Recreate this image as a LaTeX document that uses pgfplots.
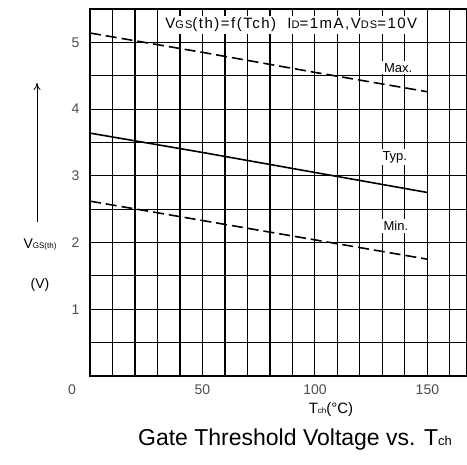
\documentclass[border=0pt]{standalone}
\usepackage{fontspec}
\setmainfont{Liberation Sans}
\usepackage{pgfplots}
\pgfplotsset{compat=1.18}
\usetikzlibrary{arrows.meta}

\begin{document}
\begin{tikzpicture}
\path[use as bounding box] (0,0) rectangle (467pt,465pt);
\begin{axis}[
  at={(90pt,89pt)}, anchor=south west,
  scale only axis, width=377pt, height=367pt,
  xmin=0, xmax=167.6, ymin=0, ymax=5.5,
  xtick={50,100,150}, ytick={1,2,3,4,5},
  minor xtick={0,10,...,160}, minor ytick={0.5,1,...,5.5},
  grid=both,
  major grid style={black, line width=1.1pt},
  minor grid style={black, line width=1.1pt},
  major tick length=0pt, minor tick length=0pt,
  axis line style={line width=1.4pt},
  /pgf/number format/assume math mode=true,
  ticklabel style={font=\fontsize{14}{14}\selectfont, text=black!70},
  xticklabel style={yshift=-5pt},
  yticklabel style={xshift=-7pt},
]
% Max
\addplot[black, line width=1.6pt, dash pattern=on 11pt off 5pt] coordinates {(0,5.14) (50,4.85) (100,4.55) (150,4.26)};
% Typ
\addplot[black, line width=1.6pt] coordinates {(0,3.64) (50,3.35) (100,3.05) (150,2.75)};
% Min
\addplot[black, line width=1.6pt, dash pattern=on 11pt off 5pt] coordinates {(0,2.62) (50,2.33) (100,2.04) (150,1.75)};
\draw[black, line width=1.3pt] (axis cs:150,4.26) -- (axis cs:150,4.5);
\draw[black, line width=1.3pt] (axis cs:150,2.75) -- (axis cs:150,2.5);
\node[fill=white, inner sep=2pt, font=\fontsize{15}{15}\selectfont\addfontfeatures{LetterSpace=10}] at (axis cs:89.5,5.26)
  {V{\fontsize{11}{11}\selectfont GS}(th)=f(Tch)\ \ I{\fontsize{11}{11}\selectfont D}=1mA,V{\fontsize{11}{11}\selectfont DS}=10V};
\node[fill=white, inner sep=2pt, font=\fontsize{13}{13}\selectfont] at (axis cs:137,4.62) {Max.};
\node[fill=white, inner sep=2pt, font=\fontsize{13}{13}\selectfont] at (axis cs:135.5,3.28) {Typ.};
\node[fill=white, inner sep=2pt, font=\fontsize{13}{13}\selectfont] at (axis cs:136,2.25) {Min.};
\end{axis}
\node[font=\fontsize{14}{14}\selectfont, text=black!70] at (72pt,75pt) {0};
\draw[-{To[length=7pt,width=7pt]}, line width=0.8pt] (37pt,243pt) -- (37pt,382pt);
\node[font=\fontsize{14}{14}\selectfont] at (40pt,220pt) {V{\fontsize{8}{8}\selectfont GS(th)}};
\node[font=\fontsize{14}{14}\selectfont] at (40pt,180pt) {(V)};
\node[font=\fontsize{15}{15}\selectfont] at (331pt,55pt) {T{\fontsize{8}{8}\selectfont ch}(°C)};
\node[font=\fontsize{23}{23}\selectfont] at (295pt,25pt) {Gate Threshold Voltage vs. T{\fontsize{13}{13}\selectfont ch}};
\end{tikzpicture}
\end{document}
